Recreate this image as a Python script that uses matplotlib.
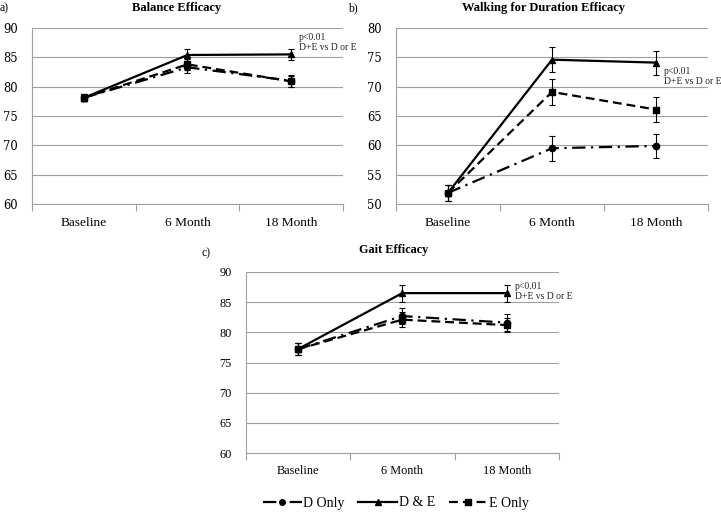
import matplotlib
matplotlib.use("Agg")
import matplotlib.pyplot as plt
from matplotlib.lines import Line2D

plt.rcParams['font.family'] = ['Liberation Serif', 'DejaVu Serif']

categories = ["Baseline", "6 Month", "18 Month"]
series_names = ["D Only", "D & E", "E Only"]

# Panel a: Balance Efficacy
a_d = [78.1, 83.3, 81.0]
a_de = [78.1, 85.4, 85.5]
a_e = [78.1, 83.8, 80.9]
a_d_err = [0.6, 1.0, 1.0]
a_de_err = [0.6, 1.0, 1.0]
a_e_err = [0.6, 1.0, 1.0]

# Panel b: Walking for Duration Efficacy
b_d = [51.9, 59.5, 59.9]
b_de = [51.9, 74.6, 74.1]
b_e = [51.9, 69.1, 66.1]
b_d_err = [1.4, 2.1, 2.1]
b_de_err = [1.4, 2.1, 2.05]
b_e_err = [1.4, 2.2, 2.1]

# Panel c: Gait Efficacy
c_d = [77.2, 82.7, 81.6]
c_de = [77.2, 86.5, 86.5]
c_e = [77.2, 82.1, 81.2]
c_d_err = [1.0, 1.4, 1.4]
c_de_err = [1.0, 1.4, 1.4]
c_e_err = [1.0, 1.2, 1.2]

annot_text = "p<0.01\nD+E vs D or E"

W, H = 721, 512
fig = plt.figure(figsize=(W / 100, H / 100), dpi=100)

def px_axes(left, top, right, bottom):
    return fig.add_axes([left / W, 1 - bottom / H, (right - left) / W, (bottom - top) / H])

styles = {
    "D Only": dict(linestyle=(0, (6, 2.5, 1, 2.5)), marker="o", markersize=4.5),
    "D & E": dict(linestyle="-", marker="^", markersize=5),
    "E Only": dict(linestyle=(0, (4, 2.2)), marker="s", markersize=5),
}

GRID = "#a0a0a0"

def panel(ax, d, de, e, derr, deerr, eerr, ylim, yticks, xfs, yfont, yfs, annot_off, afs):
    x = list(range(len(categories)))
    for name, vals, errs in [("D Only", d, derr), ("E Only", e, eerr), ("D & E", de, deerr)]:
        st = styles[name]
        ax.errorbar(x, vals, yerr=errs, color="black", linewidth=1.6,
                    elinewidth=0.8, capsize=2.2, capthick=0.8,
                    linestyle=st["linestyle"], marker=st["marker"],
                    markersize=st["markersize"], markerfacecolor="black",
                    markeredgecolor="black", zorder=3)
    ax.set_xlim(-0.5, len(categories) - 0.5)
    ax.set_ylim(*ylim)
    ax.set_yticks(list(yticks))
    ax.set_yticklabels([str(v) for v in yticks], fontsize=yfs, family=yfont)
    ax.set_xticks([i - 0.5 for i in range(len(categories) + 1)], minor=False)
    ax.set_xticklabels([])
    ax.set_xticks(x, minor=True)
    ax.set_xticklabels(categories, minor=True, fontsize=xfs)
    ax.tick_params(axis="x", which="major", length=5, color=GRID, width=0.8, direction="out")
    ax.tick_params(axis="x", which="minor", length=0, pad=9)
    ax.tick_params(axis="y", length=0, pad=10)
    ax.grid(axis="y", color=GRID, linewidth=0.8, zorder=0)
    ax.set_axisbelow(True)
    for s in ["top", "right"]:
        ax.spines[s].set_visible(False)
    for s in ["left", "bottom"]:
        ax.spines[s].set_color(GRID)
        ax.spines[s].set_linewidth(0.8)
    ax.annotate(annot_text, xy=(2, de[2]), xycoords="data",
                xytext=annot_off, textcoords="offset pixels",
                ha="left", va="center", fontsize=afs, linespacing=1.15,
                color="#222222")

axa = px_axes(32, 28, 343, 204)
panel(axa, a_d, a_de, a_e, a_d_err, a_de_err, a_e_err, (60, 90), range(60, 91, 5),
      9.6, ['DejaVu Serif'], 8.3, (8, 12), 6.9)

axb = px_axes(396, 28, 708, 204)
panel(axb, b_d, b_de, b_e, b_d_err, b_de_err, b_e_err, (50, 80), range(50, 81, 5),
      9.6, ['DejaVu Serif'], 8.3, (8, -14), 6.9)

axc = px_axes(245.5, 272, 559, 453)
panel(axc, c_d, c_de, c_e, c_d_err, c_de_err, c_e_err, (60, 90), range(60, 91, 5),
      8.8, ['Liberation Serif'], 8.8, (8, 2), 6.9)

def ftext(xp, yp, s, **kw):
    fig.text(xp / W, 1 - yp / H, s, **kw)

ftext(177, 8, "Balance Efficacy", ha="center", va="center", fontsize=9, fontweight="bold")
ftext(543, 8, "Walking for Duration Efficacy", ha="center", va="center", fontsize=9, fontweight="bold")
ftext(394, 250, "Gait Efficacy", ha="center", va="center", fontsize=8.8, fontweight="bold")
ftext(0, 8, "a)", ha="left", va="center", fontsize=8.5)
ftext(348, 8, "b)", ha="left", va="center", fontsize=8.5)
ftext(202, 253, "c)", ha="left", va="center", fontsize=8.5)

handles = []
for name in series_names:
    st = styles[name]
    handles.append(Line2D([], [], color="black", linewidth=1.6, linestyle=st["linestyle"],
                          marker=st["marker"], markersize=st["markersize"] - 0.5,
                          markerfacecolor="black", markeredgecolor="black"))
fig.legend(handles, series_names, loc="center", bbox_to_anchor=(396 / W, 1 - 503 / H),
           ncol=3, frameon=False, fontsize=10, handlelength=2.8, handletextpad=0.1,
           columnspacing=1.0)

fig.savefig("out.png", dpi=100)
